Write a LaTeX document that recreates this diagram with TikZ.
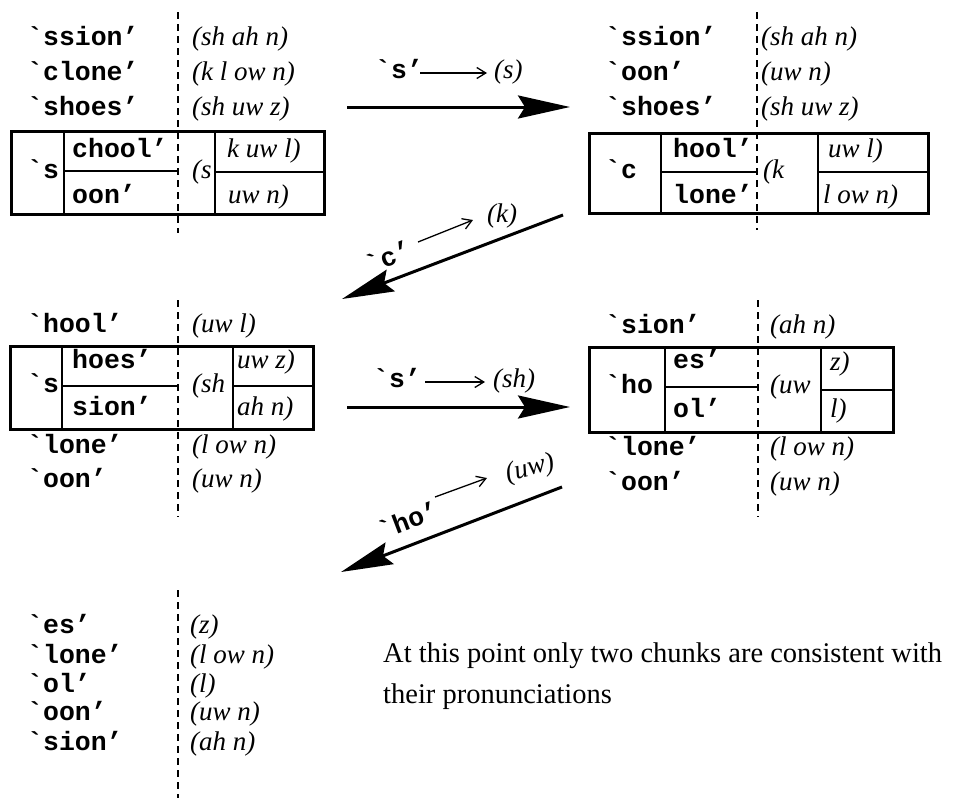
\documentclass[tikz,border=0pt]{standalone}
\usepackage{fontspec}
\setmainfont{Liberation Serif}
\newfontfamily\chunkfam{Liberation Mono}[Ligatures=TeXOff]
\newfontfamily\pronfam{Liberation Serif}
\usetikzlibrary{arrows.meta}

\newcommand\chunkfont{\fontsize{26.5}{30}\selectfont\chunkfam\bfseries}
\newcommand\pronfont{\fontsize{27}{30}\selectfont\pronfam\itshape}
\newcommand\bodyfont{\fontsize{28.5}{34}\selectfont\rmfamily}

\tikzset{
  chunk/.style={font=\chunkfont, anchor=base west, inner sep=0pt},
  pron/.style={font=\pronfont, anchor=base west, inner sep=0pt},
  guide/.style={line width=1.4pt, dash pattern=on 7pt off 5pt},
  frame/.style={draw, line width=3pt, inner sep=0pt, anchor=north west},
  cell/.style={line width=1.4pt},
  bigarrow/.style={line width=3pt, -{Stealth[length=52pt,width=23pt,inset=7pt]}},
  smallarrow/.style={line width=1.3pt, -{Straight Barb[length=9pt,width=11pt]}},
}

\begin{document}
\begin{tikzpicture}[x=1pt,y=-1pt]
\useasboundingbox (0,0) rectangle (959,798);

% ---------- state 1 (top left) ----------
\draw[guide] (178,12) -- (178,233);
\node[chunk] (a1) at (27,45)  {`ssion’};
\node[pron]  (a1p) at (192,45) {(sh ah n)};
\node[chunk] (a2) at (27,80)  {`clone’};
\node[pron]  (a2p) at (192,80) {(k l ow n)};
\node[chunk] (a3) at (27,115) {`shoes’};
\node[pron]  (a3p) at (192,115) {(sh uw z)};
\node[frame, minimum width=313pt, minimum height=83pt] (abox) at (10,130) {};
\draw[cell] (64,130) -- (64,213);
\draw[cell] (64,171) -- (178,171);
\draw[cell] (215,130) -- (215,213);
\draw[cell] (215,172) -- (323,172);
\node[chunk] (ah)  at (27,178)  {`s};
\node[chunk] (at1) at (72,157)  {chool’};
\node[chunk] (at2) at (72,203)  {oon’};
\node[pron]  (ahp) at (192,178) {(s};
\node[pron]  (ap1) at (227,157) {k uw l)};
\node[pron]  (ap2) at (228,203) {uw n)};

% ---------- state 2 (top right) ----------
\draw[guide] (757,12) -- (757,230);
\node[chunk] (b1) at (605,45)  {`ssion’};
\node[pron]  (b1p) at (761,45) {(sh ah n)};
\node[chunk] (b2) at (605,80)  {`oon’};
\node[pron]  (b2p) at (761,80) {(uw n)};
\node[chunk] (b3) at (605,115) {`shoes’};
\node[pron]  (b3p) at (761,115) {(sh uw z)};
\node[frame, minimum width=339pt, minimum height=80pt] (bbox) at (588,132) {};
\draw[cell] (661,132) -- (661,212);
\draw[cell] (661,172) -- (757,172);
\draw[cell] (818,132) -- (818,212);
\draw[cell] (818,172) -- (927,172);
\node[chunk] (bh)  at (605,178) {`c};
\node[chunk] (bt1) at (673,157) {hool’};
\node[chunk] (bt2) at (673,203) {lone’};
\node[pron]  (bhp) at (763,178) {(k};
\node[pron]  (bp1) at (828,157) {uw l)};
\node[pron]  (bp2) at (823,203) {l ow n)};

% ---------- state 3 (middle left) ----------
\draw[guide] (178,300) -- (178,517);
\node[chunk] (c1) at (27,332)  {`hool’};
\node[pron]  (c1p) at (192,332) {(uw l)};
\node[frame, minimum width=303pt, minimum height=83pt] (cbox) at (9,345) {};
\draw[cell] (62,345) -- (62,428);
\draw[cell] (62,386) -- (178,386);
\draw[cell] (233,345) -- (233,428);
\draw[cell] (233,386) -- (312,386);
\node[chunk] (ch)  at (27,392)  {`s};
\node[chunk] (ct1) at (72,368)  {hoes’};
\node[chunk] (ct2) at (72,415)  {sion’};
\node[pron]  (chp) at (192,392) {(sh};
\node[pron]  (cp1) at (237,368) {uw z)};
\node[pron]  (cp2) at (237,415) {ah n)};
\node[chunk] (c2) at (27,453)  {`lone’};
\node[pron]  (c2p) at (192,453) {(l ow n)};
\node[chunk] (c3) at (27,487)  {`oon’};
\node[pron]  (c3p) at (192,487) {(uw n)};

% ---------- state 4 (middle right) ----------
\draw[guide] (758,300) -- (758,517);
\node[chunk] (d1) at (605,333)  {`sion’};
\node[pron]  (d1p) at (770,333) {(ah n)};
\node[frame, minimum width=304pt, minimum height=85pt] (dbox) at (588,346) {};
\draw[cell] (665,346) -- (665,431);
\draw[cell] (665,387) -- (757,387);
\draw[cell] (821,346) -- (821,431);
\draw[cell] (821,390) -- (892,390);
\node[chunk] (dh)  at (605,393) {`ho};
\node[chunk] (dt1) at (673,368) {es’};
\node[chunk] (dt2) at (673,417) {ol’};
\node[pron]  (dhp) at (770,393) {(uw};
\node[pron]  (dp1) at (830,370) {z)};
\node[pron]  (dp2) at (830,417) {l)};
\node[chunk] (d2) at (605,455)  {`lone’};
\node[pron]  (d2p) at (770,455) {(l ow n)};
\node[chunk] (d3) at (605,490)  {`oon’};
\node[pron]  (d3p) at (770,490) {(uw n)};

% ---------- state 5 (bottom left) ----------
\draw[guide] (178,590) -- (178,798);
\node[chunk] (e1) at (27,633) {`es’};
\node[pron]  (e1p) at (190,633) {(z)};
\node[chunk] (e2) at (27,663) {`lone’};
\node[pron]  (e2p) at (190,663) {(l ow n)};
\node[chunk] (e3) at (27,692) {`ol’};
\node[pron]  (e3p) at (190,692) {(l)};
\node[chunk] (e4) at (27,720) {`oon’};
\node[pron]  (e4p) at (190,720) {(uw n)};
\node[chunk] (e5) at (27,750) {`sion’};
\node[pron]  (e5p) at (190,750) {(ah n)};

\node[font=\bodyfont, anchor=base west, inner sep=0pt] (note1) at (383,662)
  {At this point only two chunks are consistent with};
\node[font=\bodyfont, anchor=base west, inner sep=0pt] (note2) at (383,703)
  {their pronunciations};

% ---------- transitions ----------
\coordinate (t1s) at (347,107); \coordinate (t1e) at (570,107);
\draw[bigarrow] (t1s) -- (t1e);
\node[chunk] (t1a) at (375,78) {`s’};
\coordinate (t1x) at (420,73); \coordinate (t1y) at (487,73);
\draw[smallarrow] (t1x) -- (t1y);
\node[pron] (t1b) at (494,78) {(s)};

\coordinate (t2s) at (563,215); \coordinate (t2e) at (342,299);
\draw[bigarrow] (t2s) -- (t2e);
\node[font=\chunkfont, rotate=21, inner sep=0pt] (t2a) at (388,257) {`c’};
\coordinate (t2x) at (418,242); \coordinate (t2y) at (473,220);
\draw[smallarrow] (t2x) -- (t2y);
\node[font=\pronfont, inner sep=0pt] (t2b) at (502,216) {(k)};

\coordinate (t3s) at (347,407); \coordinate (t3e) at (570,407);
\draw[bigarrow] (t3s) -- (t3e);
\node[chunk] (t3a) at (373,387) {`s’};
\coordinate (t3x) at (425,382); \coordinate (t3y) at (485,382);
\draw[smallarrow] (t3x) -- (t3y);
\node[pron] (t3b) at (493,387) {(sh)};

\coordinate (t4s) at (562,487); \coordinate (t4e) at (341,572);
\draw[bigarrow] (t4s) -- (t4e);
\node[font=\chunkfont, rotate=21, inner sep=0pt] (t4a) at (408,520) {`ho’};
\coordinate (t4x) at (435,497); \coordinate (t4y) at (487,478);
\draw[smallarrow] (t4x) -- (t4y);
\node[font=\pronfont, rotate=14, inner sep=0pt] (t4b) at (530,469) {(uw)};
\end{tikzpicture}
\end{document}
